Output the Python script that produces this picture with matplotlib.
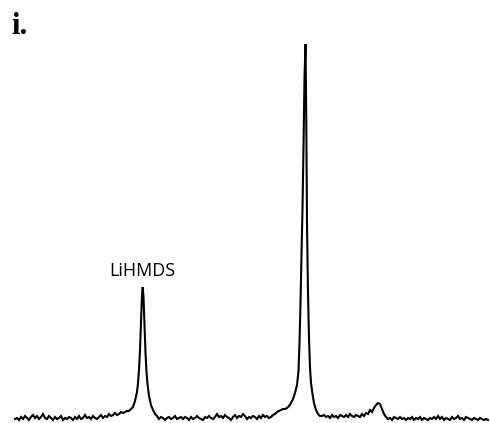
import matplotlib
matplotlib.use("Agg")
import matplotlib.pyplot as plt

# Spectrum trace: position (arbitrary shift units) and intensity
shift_left = [15, 17, 19, 21, 23, 25, 27, 29, 31, 33, 35, 37, 39, 41, 43, 45,
              47, 49, 51, 53, 55, 57, 59, 61, 63, 65, 67, 69, 71, 73, 75, 77,
              79, 81, 83, 85, 87, 89, 91, 93, 95, 97, 99, 101, 103, 105, 107,
              109, 111, 113, 115, 117, 119, 121, 123, 125, 127]
int_left = [4, 5, 3, 6, 4, 7, 5, 3, 6, 8, 5, 7, 4, 6, 9, 5,
            4, 7, 5, 3, 6, 4, 5, 7, 3, 5, 4, 6, 5, 3, 6, 4,
            7, 4, 5, 8, 5, 6, 4, 7, 5, 4, 6, 8, 5, 7, 6,
            9, 7, 8, 10, 8, 9, 11, 10, 11, 12]

shift_lihmds = [129, 131, 133, 135, 137, 138, 139, 140, 141, 142, 142.7,
                143.5, 144.5, 145.5, 146.5, 147.5, 149, 151, 153, 155]
int_lihmds = [12, 14, 16, 22, 31, 40, 53, 73, 100, 128, 136,
              126, 97, 70, 51, 39, 27, 18, 13, 9]

shift_mid = [157, 159, 161, 163, 165, 167, 169, 171, 173, 175, 177, 179, 181,
             183, 185, 187, 189, 191, 193, 195, 197, 199, 201, 203, 205, 207,
             209, 211, 213, 215, 217, 219, 221, 223, 225, 227, 229, 231, 233,
             235, 237, 239, 241, 243, 245, 247, 249, 251, 253, 255, 257, 259,
             261, 263, 265, 267, 269, 271, 273, 275, 277, 279, 281, 283]
int_mid = [7, 4, 6, 5, 3, 5, 6, 4, 5, 7, 4, 5, 6,
           4, 6, 5, 3, 6, 4, 5, 7, 5, 4, 3, 6, 5,
           7, 5, 4, 6, 9, 6, 7, 5, 8, 6, 5, 3, 6,
           8, 5, 7, 6, 9, 7, 4, 6, 5, 7, 6, 4, 7,
           5, 8, 6, 7, 5, 6, 8, 9, 11, 12, 13, 14]

shift_main = [285, 287, 289, 291, 293, 295, 297, 298.5, 299.5, 300.5, 301.5,
              302.5, 303.5, 304.5, 305.5, 306.3, 307, 308, 309, 310, 311,
              312.5, 314, 316, 318, 320]
int_main = [14, 15, 17, 20, 24, 30, 38, 52, 80, 120, 165,
            215, 275, 345, 379, 300, 200, 130, 85, 55, 40,
            29, 20, 13, 9, 7]

shift_right = [322, 324, 326, 328, 330, 332, 334, 336, 338, 340, 342, 344, 346,
               348, 350, 352, 354, 356, 358, 360, 362, 364, 366, 368, 370, 372,
               374, 376, 378, 380, 382, 384, 386, 388, 390, 392, 394, 396, 398,
               400, 402, 404, 406, 408, 410, 412, 414, 416, 418, 420, 422, 424,
               426, 428, 430, 432, 434, 436, 438, 440, 442, 444, 446, 448, 450,
               452, 454, 456, 458, 460, 462, 464, 466, 468, 470, 472, 474, 476,
               478, 480, 482, 484, 486, 488]
int_right = [7, 8, 6, 7, 5, 8, 6, 7, 5, 8, 7, 6, 8,
             6, 9, 7, 6, 8, 7, 6, 9, 7, 10, 9, 13, 11,
             15, 18, 20, 19, 14, 9, 6, 4, 5, 3, 6, 5, 4,
             6, 4, 5, 3, 5, 4, 6, 3, 5, 4, 6, 3, 5,
             4, 3, 5, 4, 6, 4, 7, 4, 6, 3, 5, 4, 3,
             6, 4, 5, 7, 4, 5, 3, 6, 5, 4, 3, 5, 4,
             3, 5, 4, 3, 4, 3]

shift = shift_left + shift_lihmds + shift_mid + shift_main + shift_right
intensity = int_left + int_lihmds + int_mid + int_main + int_right

peak_label = "LiHMDS"
peak_label_pos = (142.5, 147)
panel_label = "i."

fig = plt.figure(figsize=(4.90, 4.23), dpi=100)
ax = fig.add_axes([0, 0, 1, 1])
ax.plot(shift, intensity, color="black", lw=1.5, solid_joinstyle="miter")
ax.set_xlim(0, 490)
ax.set_ylim(0, 423)
ax.axis("off")

ax.text(peak_label_pos[0], peak_label_pos[1], peak_label, ha="center",
        va="baseline", fontsize=13, family="Open Sans")
ax.text(11, 389, panel_label, ha="left", va="baseline", fontsize=22,
        family="Liberation Serif", fontweight="bold")

fig.savefig("out.png", dpi=100, facecolor="white")
